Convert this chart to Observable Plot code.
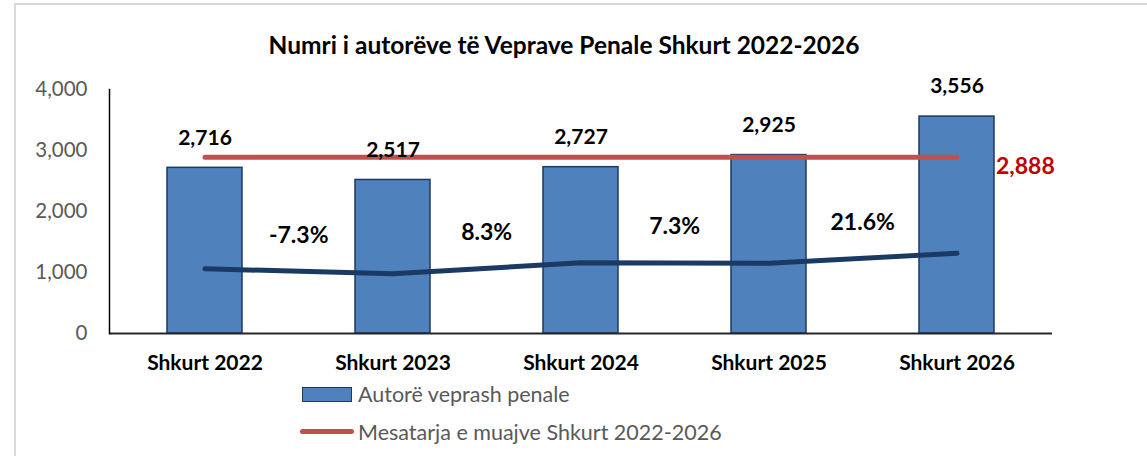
<!DOCTYPE html>
<html>
<head>
<meta charset="utf-8">
<script src="https://cdn.jsdelivr.net/npm/d3@7"></script>
<script src="https://cdn.jsdelivr.net/npm/@observablehq/plot@0.6"></script>
<style>
  body { margin: 0; background: #fff; font-family: Lato, "Open Sans", sans-serif; }
  #frame { position: absolute; left: 14px; top: 3px; width: 1300px; height: 600px; border: 2px solid #d9d9d9; box-sizing: border-box; }
  #title { position: absolute; left: 0; top: 31px; width: 1128px; text-align: center; font-weight: bold; font-size: 24.5px; line-height: 28px; color: #000; }
  #chart { position: absolute; left: 0; top: 60px; }
  .lg { position: absolute; font-size: 21.5px; color: #595959; line-height: 24px; }
</style>
</head>
<body>
<div id="frame"></div>
<div id="title">Numri i autorëve të Veprave Penale Shkurt 2022-2026</div>
<div id="chart"></div>
<div id="legend">
  <div style="position:absolute;left:302px;top:387px;width:50px;height:15px;background:#4f81bd;border:1.5px solid #1f3864;box-sizing:border-box;"></div>
  <div class="lg" style="left:358px;top:382px;">Autorë veprash penale</div>
  <div style="position:absolute;left:300px;top:429px;width:54px;height:5px;background:#c0504d;border-radius:3px;"></div>
  <div class="lg" style="left:358px;top:420px;">Mesatarja e muajve Shkurt 2022-2026</div>
</div>
<script>
const categories = ["Shkurt 2022", "Shkurt 2023", "Shkurt 2024", "Shkurt 2025", "Shkurt 2026"];
const authors = [2716, 2517, 2727, 2925, 3556];
const average = 2888;
const trendLine = [1060, 980, 1160, 1150, 1315];
const changes = ["-7.3%", "8.3%", "7.3%", "21.6%"];
const yTicks = [0, 1000, 2000, 3000, 4000];

const W = 1147, H = 320, ML = 109, MR = 95, MT = 29, MB = 47;
const step = (W - ML - MR) / categories.length;
const fmt = d3.format(",");

const bars = categories.map((c, i) => ({cat: c, v: authors[i]}));
const avgData = categories.map(c => ({cat: c, v: average}));
const trendData = categories.map((c, i) => ({cat: c, v: trendLine[i]}));
const changeData = changes.map((t, i) => ({cat: categories[i + 1], v: (trendLine[i] + trendLine[i + 1]) / 2, t}));

const chart = Plot.plot({
  width: W, height: H,
  marginLeft: ML, marginRight: MR, marginTop: MT, marginBottom: MB,
  style: {fontFamily: "Lato, 'Open Sans', sans-serif", background: "transparent"},
  x: {domain: categories, paddingInner: 0.6, paddingOuter: 0.3, label: null},
  y: {domain: [0, 4000], label: null},
  marks: [
    Plot.barY(bars, {x: "cat", y: "v", fill: "#4f81bd", stroke: "#1f3864", strokeWidth: 1.5}),
    Plot.lineY(avgData, {x: "cat", y: "v", stroke: "#c0504d", strokeWidth: 5, strokeLinecap: "round"}),
    Plot.lineY(trendData, {x: "cat", y: "v", stroke: "#1b3a63", strokeWidth: 5, strokeLinecap: "round", strokeLinejoin: "round"}),
    Plot.text(bars, {x: "cat", y: "v", text: d => fmt(d.v), dy: -30, fontSize: 21, fontWeight: "bold", fill: "#000"}),
    Plot.text(changeData, {x: "cat", y: "v", text: "t", dx: -step / 2, dy: -36, fontSize: 23, fontWeight: "bold", fill: "#000"}),
    Plot.text([avgData[avgData.length - 1]], {x: "cat", y: "v", text: d => fmt(d.v), dx: 39, dy: 9, textAnchor: "start", fontSize: 23, fontWeight: "bold", fill: "#c00000"}),
    Plot.ruleY([0], {stroke: "#262626", strokeWidth: 2}),
    Plot.frame({anchor: "left", stroke: "#000", strokeWidth: 1.5}),
    Plot.axisY({ticks: yTicks, tickSize: 0, tickPadding: 22, tickFormat: fmt, fontSize: 20.5, fill: "#595959"}),
    Plot.axisX({tickSize: 0, tickPadding: 22, fontSize: 21, fontWeight: "bold", fill: "#000"})
  ]
});
document.getElementById("chart").appendChild(chart);
</script>
</body>
</html>
